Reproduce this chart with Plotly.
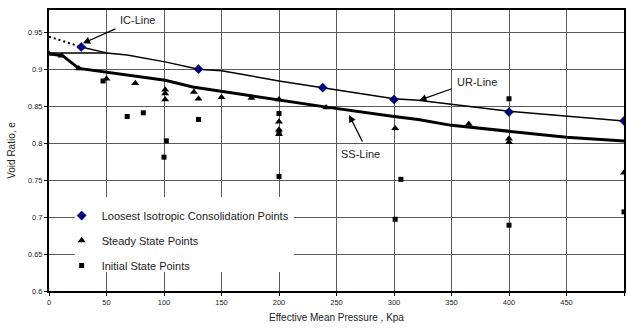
import plotly.graph_objects as go

# Loosest isotropic consolidation states (p', e)
lic_p = [28, 130, 238, 300, 400, 500]
lic_e = [0.930, 0.900, 0.875, 0.859, 0.842, 0.830]

# Steady state points
ss_pts_p = [0, 11, 26, 50, 75, 101, 101, 101, 126, 130, 150, 176, 200, 200, 200, 200, 241, 301, 365, 400, 400, 500]
ss_pts_e = [0.921, 0.918, 0.901, 0.887, 0.881, 0.872, 0.867, 0.859, 0.869, 0.860, 0.862, 0.861, 0.859,
            0.829, 0.818, 0.812, 0.848, 0.820, 0.826, 0.806, 0.801, 0.760]

# Initial state points
init_p = [47, 68, 82, 100, 102, 130, 200, 200, 200, 301, 306, 400, 400, 500]
init_e = [0.884, 0.836, 0.841, 0.781, 0.803, 0.832, 0.840, 0.815, 0.755, 0.697, 0.751, 0.860, 0.689, 0.707]

# Fitted lines
ic_p = [0, 28]
ic_e = [0.944, 0.930]
ic_link_p = [28, 50]
ic_link_e = [0.930, 0.922]
ur_p = [0, 50, 68, 102, 130, 150, 200, 238, 300, 321, 400, 500]
ur_e = [0.922, 0.922, 0.919, 0.9095, 0.900, 0.898, 0.884, 0.875, 0.860, 0.858, 0.843, 0.830]
ss_p = [0, 12, 26, 50, 73, 101, 125, 150, 200, 240, 300, 321, 350, 400, 450, 500]
ss_e = [0.921, 0.918, 0.901, 0.896, 0.891, 0.885, 0.876, 0.870, 0.858, 0.849, 0.836, 0.832, 0.824, 0.816, 0.808, 0.803]

x_ticks = [0, 50, 100, 150, 200, 250, 300, 350, 400, 450, 500]
y_ticks = [0.6, 0.65, 0.7, 0.75, 0.8, 0.85, 0.9, 0.95]

FONT = "Liberation Sans, Arial, sans-serif"
TXT = "#222222"

fig = go.Figure()

# white panel behind the legend (hides the grid there)
fig.add_shape(type="rect", xref="x", yref="y", x0=22.5, x1=213, y0=0.6257, y1=0.727,
              fillcolor="white", line=dict(width=0), layer="above")

fig.add_trace(go.Scatter(x=ic_p, y=ic_e, mode="lines", showlegend=False,
                         line=dict(color="black", width=2, dash="2px,3px"), hoverinfo="skip"))
fig.add_trace(go.Scatter(x=ic_link_p, y=ic_link_e, mode="lines", showlegend=False,
                         line=dict(color="black", width=1.5), hoverinfo="skip"))
fig.add_trace(go.Scatter(x=ur_p, y=ur_e, mode="lines", showlegend=False,
                         line=dict(color="black", width=1.5), hoverinfo="skip"))
fig.add_trace(go.Scatter(x=ss_p, y=ss_e, mode="lines", showlegend=False,
                         line=dict(color="black", width=3), hoverinfo="skip"))

fig.add_trace(go.Scatter(x=lic_p, y=lic_e, mode="markers", name="Loosest Isotropic Consolidation Points",
                         legendgroup="a",
                         marker=dict(symbol="diamond", size=7, color="#000080",
                                     line=dict(color="#000040", width=0.5))))
fig.add_trace(go.Scatter(x=ss_pts_p, y=ss_pts_e, mode="markers", name="Steady State Points",
                         legendgroup="b",
                         marker=dict(symbol="triangle-up", size=7, color="black")))
fig.add_trace(go.Scatter(x=init_p, y=init_e, mode="markers", name="Initial State Points",
                         legendgroup="c",
                         marker=dict(symbol="square", size=5, color="black")))

ann_font = dict(family=FONT, size=11, color=TXT)
arrow = dict(showarrow=True, arrowhead=2, arrowsize=1.1, arrowwidth=1.3, arrowcolor="black")
fig.add_annotation(x=29.5, y=0.935, ax=34, ay=-15, text="", **arrow)
fig.add_annotation(x=77, y=0.966, text="IC-Line", showarrow=False, font=ann_font)
fig.add_annotation(x=322, y=0.858, ax=34, ay=-12, text="", **arrow)
fig.add_annotation(x=372, y=0.882, text="UR-Line", showarrow=False, font=ann_font)
fig.add_annotation(x=261, y=0.838, ax=14, ay=28, text="", **arrow)
fig.add_annotation(x=271, y=0.785, text="SS-Line", showarrow=False, font=ann_font)

axis_style = dict(showgrid=True, gridcolor="#5a5a5a", gridwidth=1,
                  showline=True, linecolor="black", linewidth=2, mirror=True,
                  ticks="outside", ticklen=3, tickcolor="black", zeroline=False,
                  tickfont=dict(family=FONT, size=7.5, color=TXT))

fig.update_xaxes(range=[0, 500], tickmode="array", tickvals=x_ticks, ticktext=[str(v) for v in x_ticks],
                 title=dict(text="Effective Mean Pressure , Kpa", font=dict(family=FONT, size=10, color=TXT),
                            standoff=8),
                 **axis_style)
fig.update_yaxes(range=[0.6, 0.98], tickmode="array", tickvals=y_ticks, ticktext=[f"{v:g}" for v in y_ticks],
                 title=dict(text="Void Ratio, e", font=dict(family=FONT, size=10, color=TXT), standoff=10),
                 **axis_style)

fig.update_layout(
    width=628, height=329,
    margin=dict(l=49, r=2, t=10, b=38),
    paper_bgcolor="white", plot_bgcolor="white",
    showlegend=True,
    legend=dict(x=0.022, y=0.32, xanchor="left", yanchor="top",
                bgcolor="rgba(0,0,0,0)", font=dict(family=FONT, size=11, color=TXT),
                tracegroupgap=6, traceorder="grouped"),
)

fig.write_html("out.html")
